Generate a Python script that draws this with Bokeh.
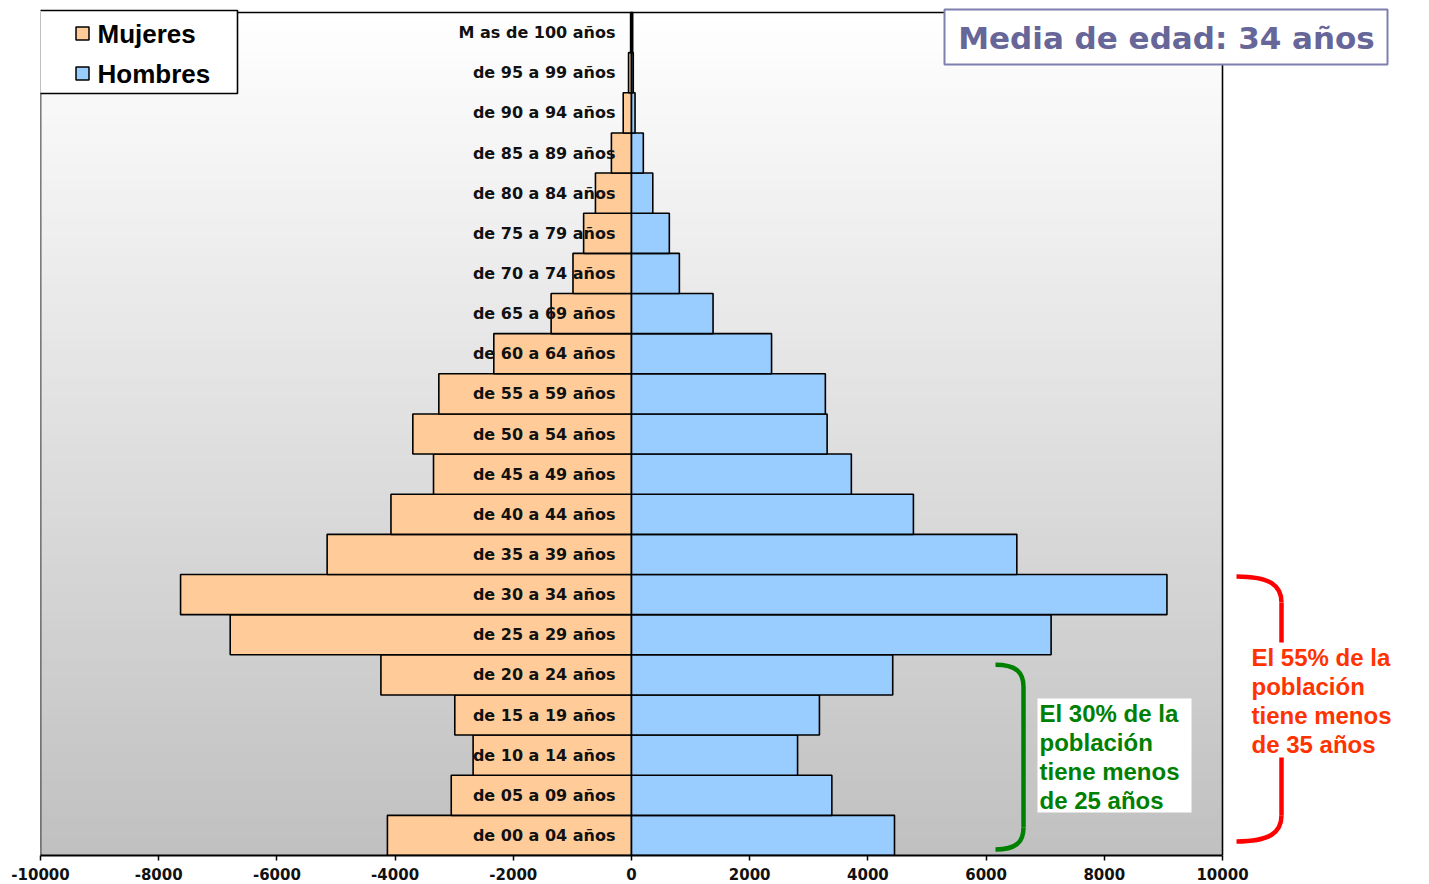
from bokeh.plotting import figure
from bokeh.models import Range1d, FixedTicker, ColumnDataSource, PrintfTickFormatter
from bokeh.core.properties import value
from bokeh.embed import file_html
from bokeh.resources import INLINE

# ---------------- data ----------------
age_groups = ["de 00 a 04 años", "de 05 a 09 años", "de 10 a 14 años", "de 15 a 19 años",
              "de 20 a 24 años", "de 25 a 29 años", "de 30 a 34 años", "de 35 a 39 años",
              "de 40 a 44 años", "de 45 a 49 años", "de 50 a 54 años", "de 55 a 59 años",
              "de 60 a 64 años", "de 65 a 69 años", "de 70 a 74 años", "de 75 a 79 años",
              "de 80 a 84 años", "de 85 a 89 años", "de 90 a 94 años", "de 95 a 99 años",
              "M as de 100 años"]
mujeres = [4130, 3050, 2680, 2990, 4240, 6790, 7630, 5150, 4070, 3350, 3700, 3260,
           2330, 1360, 990, 810, 610, 340, 140, 50, 15]
hombres = [4450, 3390, 2810, 3180, 4420, 7100, 9060, 6520, 4770, 3720, 3310, 3280,
           2370, 1380, 810, 640, 360, 200, 60, 30, 20]
x_ticks = [-10000, -8000, -6000, -4000, -2000, 0, 2000, 4000, 6000, 8000, 10000]
legend_labels = ["Mujeres", "Hombres"]
title_text = "Media de edad: 34 años"
green_lines = ["El 30% de la", "población", "tiene menos", "de 25 años"]
red_lines = ["El 55% de la", "población", "tiene menos", "de 35 años"]
green_last_group = 4   # groups 00-04 .. 20-24 (< 25 años)
red_last_group = 6     # groups 00-04 .. 30-34 (< 35 años)

WOMEN = "#FFCC99"
MEN = "#99CCFF"
FONT = "Liberation Sans"
WIDE = "DejaVu Sans"

# ---------------- geometry helpers ----------------
W, H = 1429, 884
FL = 40                      # frame left (page px)
FB = 855                     # frame bottom (page px)
UPX = 20000.0 / (1222 - FL)  # data units per px in x
n = len(age_groups)
PPY = (FB - 12) / n          # px per category in y
ymin = -0.5
ymax = n - 0.5 + 12.0 / PPY


def px_x(px):
    return -10000 + (px - FL) * UPX


def px_y(py):
    return (n - 0.5) - (py - 12) / PPY


p = figure(width=W, height=H, output_backend="svg", toolbar_location=None,
           y_axis_location=None,
           x_range=Range1d(-10000, px_x(W)),
           y_range=Range1d(ymin, ymax),
           min_border_left=FL, min_border_right=0, min_border_top=0,
           min_border_bottom=H - FB)
p.outline_line_color = None
p.xgrid.visible = False
p.ygrid.visible = False
p.background_fill_color = "white"
p.border_fill_color = "white"

# gradient background inside the chart frame
nstrips = 90
step = n / nstrips
ys = [ymin + step * i for i in range(nstrips)]
top_c = (255, 255, 255)
bot_c = (192, 192, 192)
cols = []
for i in range(nstrips):
    t = (i + 0.5) / nstrips
    c = [round(bot_c[k] + (top_c[k] - bot_c[k]) * t) for k in range(3)]
    cols.append("#%02x%02x%02x" % tuple(c))
tops = [min(y + step * 2, n - 0.5) for y in ys]
p.quad(left=-10000, right=10000, bottom=ys, top=tops, fill_color=cols, line_color=None)

# bars
yidx = list(range(n))
src = ColumnDataSource(dict(y=yidx, women=[-v for v in mujeres], men=hombres, label=age_groups))
p.hbar(y="y", left="women", right=0, height=1.0, source=src,
       fill_color=WOMEN, line_color="black", line_width=1.6)
p.hbar(y="y", left=0, right="men", height=1.0, source=src,
       fill_color=MEN, line_color="black", line_width=1.6)

# category labels
p.text(x=0, y="y", text="label", source=src, x_offset=-16, text_align="right",
       text_baseline="middle", text_font=value(WIDE), text_font_style="bold",
       text_font_size="16px", text_color="#111111")

# frame (left, top, right)
p.line(x=[-10000, -10000, 10000, 10000], y=[ymin, n - 0.5, n - 0.5, ymin],
       line_color="black", line_width=1.6)

# axis
ax = p.xaxis[0]
ax.ticker = FixedTicker(ticks=x_ticks)
ax.formatter = PrintfTickFormatter(format="%d")
ax.bounds = (-10000, 10000)
ax.axis_line_width = 2
ax.axis_line_color = "black"
ax.major_tick_in = 0
ax.major_tick_out = 5
ax.major_tick_line_width = 1.5
ax.minor_tick_line_color = None
ax.major_label_standoff = 7
ax.major_label_text_font = WIDE
ax.major_label_text_font_style = "bold"
ax.major_label_text_font_size = "15px"
ax.major_label_text_color = "#111111"

# legend (drawn manually to match the box)
p.quad(left=px_x(38), right=px_x(237), bottom=px_y(93), top=px_y(10),
       fill_color="white", line_color="black", line_width=1.6)
leg_y = [px_y(33), px_y(73)]
p.scatter(x=[px_x(82), px_x(82)], y=leg_y, marker="square", size=13,
          fill_color=[WOMEN, MEN], line_color="black", line_width=1.5)
p.text(x=[px_x(97), px_x(97)], y=leg_y, text=legend_labels, text_baseline="middle",
       text_font=value(FONT), text_font_style="bold", text_font_size="26px",
       text_color="black")

# title box
p.quad(left=px_x(944), right=px_x(1387), bottom=px_y(64), top=px_y(9),
       fill_color="white", line_color="#7F7FAF", line_width=2)
p.text(x=[px_x(1166)], y=[px_y(37)], text=[title_text], text_align="center",
       text_baseline="middle", text_font=value(WIDE), text_font_style="bold",
       text_font_size="31px", text_color="#666699")


# brackets
def bracket(x0, x1, ytop, ybot, r, color, gap=None):
    p.bezier(x0=[x0], y0=[ytop], x1=[x1], y1=[ytop - r], cx0=[x1 - (x1 - x0) * 0.25], cy0=[ytop],
             cx1=[x1], cy1=[ytop - r * 0.35], line_color=color, line_width=4.5)
    p.bezier(x0=[x0], y0=[ybot], x1=[x1], y1=[ybot + r], cx0=[x1 - (x1 - x0) * 0.25], cy0=[ybot],
             cx1=[x1], cy1=[ybot + r * 0.35], line_color=color, line_width=4.5)
    if gap is None:
        p.line(x=[x1, x1], y=[ytop - r, ybot + r], line_color=color, line_width=4.5)
    else:
        p.line(x=[x1, x1], y=[ytop - r, gap[0]], line_color=color, line_width=4.5)
        p.line(x=[x1, x1], y=[gap[1], ybot + r], line_color=color, line_width=4.5)


bracket(px_x(995), px_x(1023), green_last_group + 0.25, -0.35, 0.55, "#008000")
bracket(px_x(1236), px_x(1281), red_last_group + 0.45, -0.15, 0.65, "#FF0000",
        gap=(px_y(642), px_y(757)))

# annotation texts
p.quad(left=px_x(1037), right=px_x(1191), bottom=px_y(812), top=px_y(698),
       fill_color="white", line_color=None)
p.text(x=[px_x(1039)] * 4, y=[px_y(713 + 29 * i) for i in range(4)], text=green_lines,
       text_baseline="middle", text_font=value(FONT), text_font_style="bold",
       text_font_size="24px", text_color="#008000")
p.text(x=[px_x(1251)] * 4, y=[px_y(657 + 29 * i) for i in range(4)], text=red_lines,
       text_baseline="middle", text_font=value(FONT), text_font_style="bold",
       text_font_size="24px", text_color="#FF3300")

open("out.html", "w").write(file_html(p, INLINE))
